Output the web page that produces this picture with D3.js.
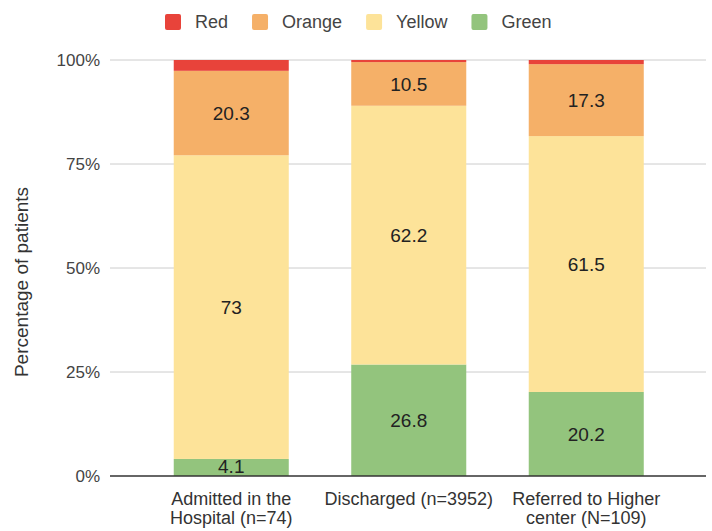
<!DOCTYPE html>
<html>
<head>
<meta charset="utf-8">
<script src="https://cdnjs.cloudflare.com/ajax/libs/d3/7.8.5/d3.min.js"></script>
<style>
  body { margin: 0; background: #fff; }
  svg { font-family: "Liberation Sans", Arial, sans-serif; }
</style>
</head>
<body>
<div id="chart"></div>
<script>
'use strict';

// Data
var categories = [
  ['Admitted in the', 'Hospital (n=74)'],
  ['Discharged (n=3952)'],
  ['Referred to Higher', 'center (N=109)']
];
var seriesNames = ['Green', 'Yellow', 'Orange', 'Red'];
var green = [4.1, 26.8, 20.2];
var yellow = [73, 62.2, 61.5];
var orange = [20.3, 10.5, 17.3];
var red = [2.6, 0.5, 1.0];
var yTicks = [0, 25, 50, 75, 100];
var legendOrder = ['Red', 'Orange', 'Yellow', 'Green'];

var colors = {
  Red: '#e8433a',
  Orange: '#f5b068',
  Yellow: '#fde399',
  Green: '#93c47d'
};

var width = 712,
  height = 531;

var svg = d3.select('#chart').append('svg')
  .attr('width', width)
  .attr('height', height);

// Build rows for stacking
var rows = categories.map(function (c, i) {
  return {
    key: i,
    Green: green[i],
    Yellow: yellow[i],
    Orange: orange[i],
    Red: red[i]
  };
});
var stacked = d3.stack().keys(seriesNames)(rows);

// Scales
var x = d3.scaleBand()
  .domain(d3.range(categories.length))
  .range([142.5, 675])
  .paddingInner(0.352)
  .paddingOuter(0.176);

var y = d3.scaleLinear()
  .domain([0, 100])
  .range([476, 60]);

// Gridlines
svg.append('g')
  .selectAll('line')
  .data(yTicks.filter(function (t) { return t > 0; }))
  .enter().append('line')
  .attr('x1', 110)
  .attr('x2', 706)
  .attr('y1', function (d) { return y(d); })
  .attr('y2', function (d) { return y(d); })
  .style('stroke', '#cccccc')
  .style('stroke-width', 1);

// Y axis labels
svg.append('g')
  .selectAll('text')
  .data(yTicks)
  .enter().append('text')
  .attr('x', 100)
  .attr('y', function (d) { return y(d); })
  .attr('dy', '0.35em')
  .attr('text-anchor', 'end')
  .style('font-size', '17px')
  .style('fill', '#444')
  .text(function (d) { return d + '%'; });

// Bars
var layer = svg.append('g')
  .selectAll('g')
  .data(stacked)
  .enter().append('g')
  .style('fill', function (d) { return colors[d.key]; });

layer.selectAll('rect')
  .data(function (d) { return d; })
  .enter().append('rect')
  .attr('x', function (d, i) { return x(i); })
  .attr('width', x.bandwidth())
  .attr('y', function (d) { return y(d[1]); })
  .attr('height', function (d) { return y(d[0]) - y(d[1]); });

// Bar annotations (not for the thin red segments)
var labelLayers = stacked.filter(function (s) { return s.key !== 'Red'; });
svg.append('g')
  .selectAll('g')
  .data(labelLayers)
  .enter().append('g')
  .selectAll('text')
  .data(function (d) { return d; })
  .enter().append('text')
  .attr('x', function (d, i) { return x(i) + x.bandwidth() / 2; })
  .attr('y', function (d) { return Math.min(y((d[0] + d[1]) / 2), y(d[0]) - 10); })
  .attr('dy', '0.35em')
  .attr('text-anchor', 'middle')
  .style('font-size', '19px')
  .style('fill', '#222')
  .text(function (d) { return d3.format('')(+(d[1] - d[0]).toFixed(1)); });

// Baseline
svg.append('line')
  .attr('x1', 110)
  .attr('x2', 706)
  .attr('y1', y(0))
  .attr('y2', y(0))
  .style('stroke', '#333')
  .style('stroke-width', 1.5);

// X labels
var xl = svg.append('g')
  .selectAll('text')
  .data(categories)
  .enter().append('text')
  .attr('x', function (d, i) { return x(i) + x.bandwidth() / 2; })
  .attr('y', 505)
  .attr('text-anchor', 'middle')
  .style('font-size', '18px')
  .style('fill', '#333');

xl.selectAll('tspan')
  .data(function (d) { return d; })
  .enter().append('tspan')
  .attr('x', function () { return d3.select(this.parentNode).attr('x'); })
  .attr('dy', function (d, i) { return i === 0 ? 0 : 19; })
  .text(function (d) { return d; });

// Y axis title
svg.append('text')
  .attr('transform', 'translate(28,282) rotate(-90)')
  .attr('text-anchor', 'middle')
  .style('font-size', '19px')
  .style('fill', '#333')
  .text('Percentage of patients');

// Legend
var legend = svg.append('g');
var lx = 165;
legendOrder.forEach(function (name) {
  legend.append('rect')
    .attr('x', lx)
    .attr('y', 14)
    .attr('width', 16)
    .attr('height', 16)
    .attr('rx', 2)
    .style('fill', colors[name]);
  var t = legend.append('text')
    .attr('x', lx + 30)
    .attr('y', 22)
    .attr('dy', '0.35em')
    .style('font-size', '18px')
    .style('fill', '#444')
    .text(name);
  lx = lx + 30 + t.node().getComputedTextLength() + 24;
});
</script>
</body>
</html>
